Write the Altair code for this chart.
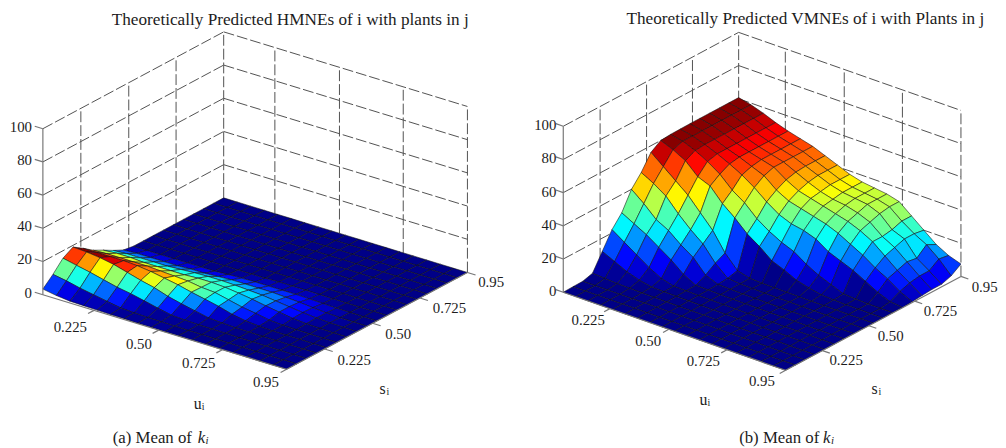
import altair as alt

Z_TICKS = [0, 20, 40, 60, 80, 100]
UV_TICKS = [0.239, 0.4775, 0.713, 0.95]
UV_LABELS = ["0.225", "0.50", "0.725", "0.95"]
GRID = [0.05 * k for k in range(1, 20)]

# rows: u index (0.05..0.95), columns: s index (0.05..0.95)
hmne = [
 [3.4,9,15.5,19,15,10.6,7.4,4,1,0,0,0,0,0,0,0,0,0,0],
 [2,7.6,13.7,18.5,15,11,8,4.5,1.5,0,0,0,0,0,0,0,0,0,0],
 [1.1,5.7,12,17.5,15,11,8,4.5,1.5,0,0,0,0,0,0,0,0,0,0],
 [.9,4.2,10,16,15,11,7.5,4.5,1.5,0,0,0,0,0,0,0,0,0,0],
 [.7,2.7,8,13.7,14.5,11,7.5,4.5,1.5,0,0,0,0,0,0,0,0,0,0],
 [.5,1.3,6.6,11.4,13.5,10.5,7.5,5,2,0,0,0,0,0,0,0,0,0,0],
 [.5,.8,4.8,9.5,12,10,7.5,5.5,2,0,0,0,0,0,0,0,0,0,0],
 [.3,.5,2.9,6.8,10.5,9.5,8,5.8,2.5,.5,0,0,0,0,0,0,0,0,0],
 [.3,.4,1.2,4.8,8.5,8.2,8,5.8,3,.8,0,0,0,0,0,0,0,0,0],
 [.2,.3,.7,3,6.8,7.6,7.5,5.5,3,1,0,0,0,0,0,0,0,0,0],
 [.2,.2,.4,1.3,5,5.7,6.5,5,3,1,.3,0,0,0,0,0,0,0,0],
 [.1,.2,.3,.7,2.7,3.8,5.3,4.5,3,1,.3,0,0,0,0,0,0,0,0],
 [.1,.1,.2,.3,1.2,2.5,3.8,3.5,2.5,1,.3,0,0,0,0,0,0,0,0],
 [0,.1,.1,.2,.5,1,2.5,2.5,2,.8,.2,0,0,0,0,0,0,0,0],
 [0,0,.1,.1,.2,.4,1.2,1.5,1.2,.5,.1,0,0,0,0,0,0,0,0],
 [0,0,0,.1,.1,.2,.5,.7,.6,.2,0,0,0,0,0,0,0,0,0],
 [0,0,0,0,.1,.1,.2,.3,.2,.1,0,0,0,0,0,0,0,0,0],
 [0,0,0,0,0,0,0,.1,.1,0,0,0,0,0,0,0,0,0,0],
 [0,0,0,0,0,0,0,0,0,0,0,0,0,0,0,0,0,0,0],
]
vmne = [
 [0,.2,.3,2,12,22,29,40,47,56,60,60.5,60.6,60.7,60.7,60.7,60.7,60.7,60.7],
 [0,.2,.3,1.5,8.5,17,25,34,43,50,57,59,59,59,59,59,59,59,59],
 [0,.2,.3,1,5,12,21,27,38,44,53,56,56.5,56.5,56.5,56.5,56.5,56.5,56.5],
 [0,.2,.3,.8,2.5,7,16,23,30,38,46,52,53.5,53.5,53.5,53.5,53.5,53.5,53.5],
 [0,.2,.3,.6,1,3,11,17,23,30,43,47,50,51,51,51,51,51,51],
 [0,.2,.3,.5,.8,1,5,12,17,22,35,40,46,48,49,49,49,49,49],
 [0,.2,.3,.4,.6,.8,1,4,8,11,29,35,41,45,47,47,47,47,47],
 [0,.1,.2,.3,.5,.6,.8,1,1.5,3,22,28,35,39,42,43.5,44,44,44],
 [0,.1,.2,.3,.4,.5,.6,.7,.8,1,17,23,30,35,38,40,41,41,41],
 [0,.1,.2,.3,.3,.4,.4,.5,.6,.6,11,19,27,33,36,37,38,38,38],
 [0,.1,.2,.2,.2,.3,.3,.4,.4,.5,8,16,25.6,31,34,35,36,36,36],
 [0,.1,.1,.2,.2,.2,.3,.3,.3,.4,4.5,11,23,29,32,34,35,35,35],
 [0,.1,.1,.1,.2,.2,.2,.2,.3,.3,2.5,7,18,26,30,32,34,34,34],
 [0,.1,.1,.1,.1,.2,.2,.2,.2,.2,1,4,15,22,27,29,31,32,32],
 [0,0,.1,.1,.1,.1,.2,.2,.2,.2,.5,1,12,18,23,23,24,26,26],
 [0,0,0,.1,.1,.1,.1,.1,.2,.2,.2,.5,8,13,17,19,21,21,20],
 [0,0,0,0,.1,.1,.1,.1,.1,.1,.2,.2,4,9,11,13,12,17,14],
 [0,0,0,0,0,.1,.1,.1,.1,.1,.1,.1,1,4,6,7,7,11,10],
 [0,0,0,0,0,0,.1,.1,.1,.1,.1,.1,.1,.5,1,1.5,1.5,3.5,7.5],
]

PANEL_W, PANEL_H = 495, 432


def jet(n=64):
    out = []
    for k in range(n):
        t = (k + 0.5) / n
        c = [min(1, max(0, 1.5 - abs(4 * t - q))) for q in (3, 2, 1)]
        out.append("#%02x%02x%02x" % tuple(round(255 * v) for v in c))
    return out


def panel(z, geo, texts):
    ox, oy = geo["origin"]

    def proj(u, s, h):
        fu = (u - 0.05) / 0.9
        fs = (s - 0.05) / 0.9
        x = geo["left"][0] + fu * geo["du"][0] + fs * geo["ds"][0] - ox
        y = geo["left"][1] + fu * geo["du"][1] + fs * geo["ds"][1] - h * geo["zs"] - oy
        return x, y

    rules = []
    def seg(a, b, kind):
        p, q = proj(*a), proj(*b)
        rules.append({"x": p[0], "y": p[1], "x2": q[0], "y2": q[1], "kind": kind})

    for h in Z_TICKS[1:]:
        seg((0.05, 0.05, h), (0.05, 0.95, h), "grid")
        seg((0.05, 0.95, h), (0.95, 0.95, h), "grid")
    for t in UV_TICKS:
        seg((0.05, t, 0), (0.05, t, 100), "grid")
        seg((t, 0.95, 0), (t, 0.95, 100), "grid")
    seg((0.05, 0.05, 0), (0.05, 0.05, 100), "axis")
    seg((0.05, 0.05, 0), (0.95, 0.05, 0), "axis")
    seg((0.95, 0.05, 0), (0.95, 0.95, 0), "axis")
    for h in Z_TICKS:
        seg((0.05, 0.05, h), (0.05 - 0.03, 0.05, h), "axis")
    for t in UV_TICKS:
        seg((t, 0.05, 0), (t, 0.05 - 0.03, 0), "axis")
        seg((0.95, t, 0), (0.95 + 0.03, t, 0), "axis")

    x_enc = alt.X("x:Q", scale=alt.Scale(domain=[0, PANEL_W], nice=False, zero=False), axis=None)
    y_enc = alt.Y("y:Q", scale=alt.Scale(domain=[PANEL_H, 0], nice=False, zero=False), axis=None)

    grid = alt.Chart(alt.Data(values=[r for r in rules if r["kind"] == "grid"])).mark_rule(
        color="#505050", strokeWidth=1, strokeDash=[11, 3]
    ).encode(x=x_enc, y=y_enc, x2="x2:Q", y2="y2:Q")
    axes = alt.Chart(alt.Data(values=[r for r in rules if r["kind"] == "axis"])).mark_rule(
        color="#777777", strokeWidth=1.2
    ).encode(x=x_enc, y=y_enc, x2="x2:Q", y2="y2:Q")

    n = len(GRID)
    feats = []
    for j in range(n - 1):
        for i in range(n - 2, -1, -1):
            ring = [proj(GRID[j + a], GRID[i + b], z[j + a][i + b])
                    for a, b in ((0, 0), (1, 0), (1, 1), (0, 1), (0, 0))]
            feats.append({
                "type": "Feature",
                "geometry": {"type": "Polygon", "coordinates": [[list(p) for p in ring]]},
                "properties": {"z": z[j][i]},
            })
    zmax = max(max(r) for r in z)
    surface = alt.Chart(alt.Data(values=feats)).mark_geoshape(
        stroke="#101010", strokeWidth=0.7, strokeOpacity=0.8
    ).encode(
        color=alt.Color("properties.z:Q", legend=None,
                        scale=alt.Scale(type="quantize", domain=[0, zmax], range=jet()))
    ).project(type="identity", scale=1, translate=[0, 0])

    rows = []
    for h in Z_TICKS:
        p = proj(0.05, 0.05, h)
        rows.append({"x": p[0] + geo["zoff"][0], "y": p[1] + geo["zoff"][1], "t": str(h), "al": "right"})
    for t, lab, o in zip(UV_TICKS, UV_LABELS, geo["uoff"]):
        p = proj(t, 0.05, 0)
        rows.append({"x": p[0] + o[0], "y": p[1] + o[1], "t": lab, "al": "center"})
    for t, lab, o in zip(UV_TICKS, UV_LABELS, geo["soff"]):
        p = proj(0.95, t, 0)
        rows.append({"x": p[0] + o[0], "y": p[1] + o[1], "t": lab, "al": "center"})

    def txt(data, size, align, style="normal"):
        return alt.Chart(alt.Data(values=data)).mark_text(
            font="Liberation Serif", fontSize=size, align=align, baseline="middle",
            fontStyle=style, color="#1c1c1c"
        ).encode(x=x_enc, y=y_enc, text="t:N")

    left = [r for r in rows if r["al"] == "right"]
    center = [r for r in rows if r["al"] == "center"]
    layers = [grid, surface, axes,
              txt(left, geo["tick_fs"], "right"), txt(center, geo["tick_fs"], "center")]
    for t, x, y, size, style in texts:
        layers.append(txt([{"x": x - ox, "y": y - oy, "t": t}], size, "left", style))
    return alt.layer(*layers).properties(width=PANEL_W, height=PANEL_H)


geo_a = dict(origin=(8, 8), left=(43.3, 294.5), du=(246.7, 75.5), ds=(183, -98), zs=1.68,
             zoff=(-11, -2), tick_fs=15,
             uoff=[(-24, 17), (-20, 14), (-24, 14), (-21, 13)],
             soff=[(30, 11), (26, 11), (30, 10), (24, 10)])
geo_b = dict(origin=(503, 8), left=(562, 292), du=(225, 79), ds=(177.5, -95), zs=1.68,
             zoff=(-7, -1), tick_fs=15,
             uoff=[(-22, 12), (-21, 12), (-24, 11), (-24, 11)],
             soff=[(24, 10), (22, 10), (26, 10), (24, 11)])

texts_a = [
    ("Theoretically Predicted HMNEs of i with plants in j", 113, 17, 17.4, "normal"),
    ("u", 196, 405, 16, "normal"), ("i", 204, 408, 10, "normal"),
    ("s", 384, 390, 16, "normal"), ("i", 391, 393, 10, "normal"),
    ("(a) Mean of", 114, 440, 17, "normal"), ("k", 200, 440, 17, "italic"), ("i", 208, 443, 11, "italic"),
]
texts_b = [
    ("Theoretically Predicted VMNEs of i with Plants in j", 626, 16, 17.4, "normal"),
    ("u", 700, 401, 16, "normal"), ("i", 708, 404, 10, "normal"),
    ("s", 874, 390, 16, "normal"), ("i", 881, 393, 10, "normal"),
    ("(b) Mean of", 740, 440, 17, "normal"), ("k", 825, 440, 17, "italic"), ("i", 833, 443, 11, "italic"),
]

chart = alt.hconcat(
    panel(hmne, geo_a, texts_a),
    panel(vmne, geo_b, texts_b),
    spacing=0, padding=0,
).resolve_scale(color="independent").configure_view(stroke=None)

chart.save("out.html", embed_options={"renderer": "svg", "actions": False})
